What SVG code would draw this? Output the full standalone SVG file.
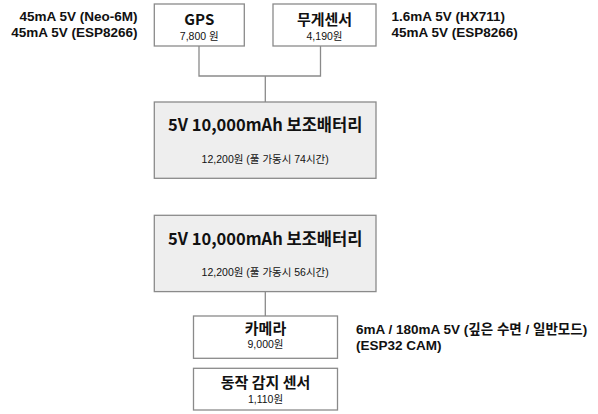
<svg xmlns="http://www.w3.org/2000/svg" width="598" height="414" viewBox="0 0 598 414">
<style>
.box{fill:#ffffff;stroke:#8a8a8a;stroke-width:1.3}
.bat{fill:#eeeeee;stroke:#8a8a8a;stroke-width:1.3}
.t{font-family:"Noto Sans CJK KR","Noto Sans",sans-serif;fill:#111;text-anchor:middle}
.title{font-size:15px;font-weight:bold}
.btitle{font-size:16.5px;font-weight:bold}
.sub{font-family:"Liberation Sans","Noto Sans CJK KR",sans-serif;font-size:10.5px}
.note{font-family:"Liberation Sans","Noto Sans CJK KR",sans-serif;fill:#111;font-size:13.5px;font-weight:bold}
.c{fill:none;stroke:#8a8a8a;stroke-width:1.3}
</style>
<g id="connectors">
<path class="c" d="M199 46 V76 H320.5 V46"/>
<path class="c" d="M265.3 76 V102"/>
<path class="c" d="M265.3 292 V316"/>
</g>
<g id="gps">
<rect class="box" x="154.3" y="4" width="90" height="42"/>
<text class="t title" x="199.3" y="24.5">GPS</text>
<text class="t sub" x="199.3" y="40">7,800 원</text>
</g>
<g id="weight">
<rect class="box" x="273" y="4" width="103" height="42"/>
<text class="t title" x="324.5" y="24.5">무게센서</text>
<text class="t sub" x="324.5" y="40">4,190원</text>
</g>
<g id="battery1">
<rect class="bat" x="154.3" y="102" width="221.7" height="76.3"/>
<text class="t btitle" x="265.2" y="131">5V 10,000mAh 보조배터리</text>
<text class="t sub" x="265.2" y="163">12,200원 (풀 가동시 74시간)</text>
</g>
<g id="battery2">
<rect class="bat" x="154.3" y="215.3" width="221.7" height="76.3"/>
<text class="t btitle" x="265.2" y="245">5V 10,000mAh 보조배터리</text>
<text class="t sub" x="265.2" y="276">12,200원 (풀 가동시 56시간)</text>
</g>
<g id="camera">
<rect class="box" x="193.5" y="316" width="144" height="42.3"/>
<text class="t title" x="265.5" y="334">카메라</text>
<text class="t sub" x="265.5" y="348">9,000원</text>
</g>
<g id="motion">
<rect class="box" x="193.5" y="368.3" width="144" height="41.7"/>
<text class="t title" x="265.5" y="387.5">동작 감지 센서</text>
<text class="t sub" x="265.5" y="403">1,110원</text>
</g>
<g id="notes">
<text class="note" x="137.5" y="21" text-anchor="end">45mA 5V (Neo-6M)</text>
<text class="note" x="137.5" y="37" text-anchor="end">45mA 5V (ESP8266)</text>
<text class="note" x="391.5" y="21">1.6mA 5V (HX711)</text>
<text class="note" x="391.5" y="37">45mA 5V (ESP8266)</text>
<text class="note" x="356" y="334">6mA / 180mA 5V (깊은 수면 / 일반모드)</text>
<text class="note" x="356" y="350">(ESP32 CAM)</text>
</g>
</svg>
